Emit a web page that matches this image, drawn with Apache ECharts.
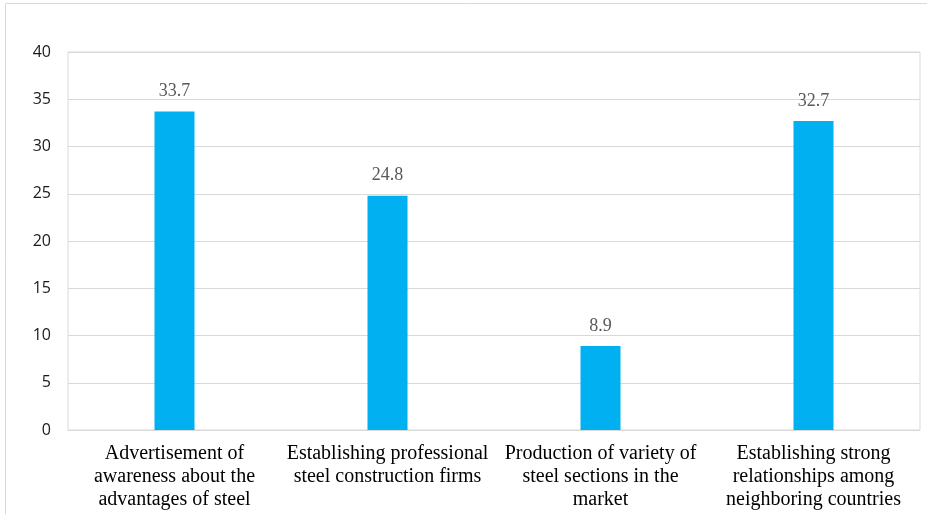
<!DOCTYPE html>
<html><head><meta charset="utf-8">
<script src="https://cdn.jsdelivr.net/npm/echarts@6/dist/echarts.min.js"></script>
<style>html,body{margin:0;padding:0;background:#fff}#c{width:927px;height:514px}</style>
</head><body><div id="c"></div>
<script>
const categories = [
  "Advertisement of\nawareness about the\nadvantages of steel",
  "Establishing professional\nsteel construction firms",
  "Production of variety of\nsteel sections in the\nmarket",
  "Establishing strong\nrelationships among\nneighboring countries"
];
const values = [33.7, 24.8, 8.9, 32.7];
const yTicks = { min: 0, max: 40, interval: 5 };

const chart = echarts.init(document.getElementById('c'), null, {renderer: 'canvas'});
chart.setOption({
  animation: false,
  graphic: [{
    type: 'rect', shape: {x: 5.5, y: 3.5, width: 940, height: 530},
    style: {fill: 'none', stroke: '#d9d9d9', lineWidth: 1}, silent: true
  }],
  grid: {left: 68, right: 7, top: 52, bottom: 84, show: true, borderColor: '#d9d9d9', borderWidth: 1},
  xAxis: {
    type: 'category', data: categories,
    axisLine: {lineStyle: {color: '#d9d9d9'}},
    axisTick: {show: false},
    axisLabel: {interval: 0, color: '#000', fontFamily: 'Liberation Serif', fontSize: 20, lineHeight: 23, margin: 12}
  },
  yAxis: {
    type: 'value', min: yTicks.min, max: yTicks.max, interval: yTicks.interval,
    axisLine: {show: false}, axisTick: {show: false},
    splitLine: {lineStyle: {color: '#d9d9d9'}},
    axisLabel: {color: '#1a1a1a', fontFamily: 'Open Sans', fontSize: 16, margin: 17}
  },
  series: [{
    type: 'bar', data: values, barWidth: 40,
    itemStyle: {color: '#00B0F0'},
    label: {show: true, position: 'top', distance: 11, color: '#595959', fontFamily: 'Liberation Serif', fontSize: 18,
      formatter: p => p.value.toFixed(1)}
  }]
});
</script></body></html>
